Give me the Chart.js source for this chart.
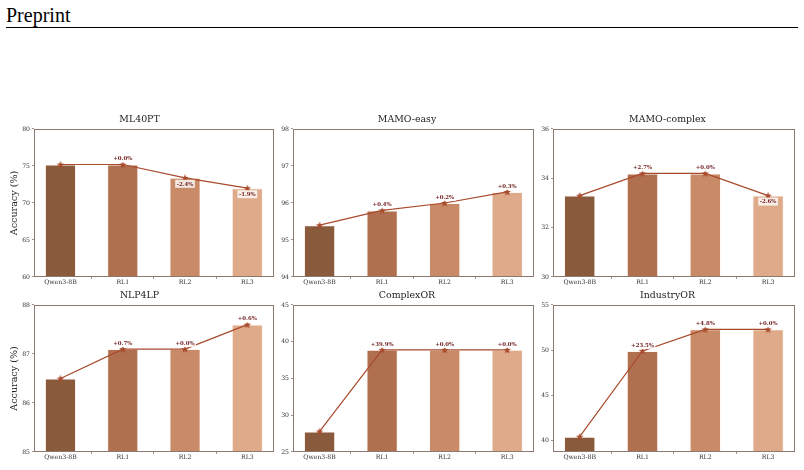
<!DOCTYPE html>
<html>
<head>
<meta charset="utf-8">
<script src="https://cdn.jsdelivr.net/npm/chart.js@4.4.1/dist/chart.umd.min.js"></script>
<style>
  html, body { margin: 0; padding: 0; background: #ffffff; }
  body { width: 804px; height: 470px; position: relative; overflow: hidden; }
  #hdr { position: absolute; left: 6px; top: 3px; font-family: "Liberation Serif", "Times New Roman", serif; font-size: 20px; line-height: 24px; color: #000; }
  #rule { position: absolute; left: 6px; top: 27px; width: 792px; height: 1px; background: #000; }
  canvas { position: absolute; }
</style>
</head>
<body>
<div id="hdr">Preprint</div>
<div id="rule"></div>

<canvas id="c0"></canvas>
<canvas id="c1"></canvas>
<canvas id="c2"></canvas>
<canvas id="c3"></canvas>
<canvas id="c4"></canvas>
<canvas id="c5"></canvas>

<script>
// ---------------- data ----------------
const categories = ["Qwen3-8B", "RL1", "RL2", "RL3"];

const titles = ["ML40PT", "MAMO-easy", "MAMO-complex", "NLP4LP", "ComplexOR", "IndustryOR"];

const ml40ptValues      = [75.2, 75.2, 73.4, 72.0];
const mamoEasyValues    = [95.4, 95.8, 96.0, 96.3];
const mamoComplexValues = [33.3, 34.2, 34.2, 33.3];
const nlp4lpValues      = [86.5, 87.1, 87.1, 87.6];
const complexORValues   = [27.8, 38.9, 38.9, 38.9];
const industryORValues  = [40.4, 49.9, 52.3, 52.3];

const ml40ptChanges      = ["", "+0.0%", "-2.4%", "-1.9%"];
const mamoEasyChanges    = ["", "+0.4%", "+0.2%", "+0.3%"];
const mamoComplexChanges = ["", "+2.7%", "+0.0%", "-2.6%"];
const nlp4lpChanges      = ["", "+0.7%", "+0.0%", "+0.6%"];
const complexORChanges   = ["", "+39.9%", "+0.0%", "+0.0%"];
const industryORChanges  = ["", "+23.5%", "+4.8%", "+0.0%"];

const ml40ptTicks      = [60, 65, 70, 75, 80];
const mamoEasyTicks    = [94, 95, 96, 97, 98];
const mamoComplexTicks = [30, 32, 34, 36];
const nlp4lpTicks      = [85, 86, 87, 88];
const complexORTicks   = [25, 30, 35, 40, 45];
const industryORTicks  = [40, 45, 50, 55];

const yRanges = [[60, 80], [94, 98], [30, 36], [85, 88], [25, 45], [38.7, 55]];

// ---------------- styles ----------------
const barColors = ["#8a5a3c", "#b07050", "#c98a68", "#deaa8a"];
const lineColor = "#a84a2c";
const spineColor = "#8c7a70";
const tickTextColor = "#333333";
const annColor = "#6e1c1c";
const serif = "'DejaVu Serif', serif";

// panel geometry (canvas placement + margins)
const panels = [
  { left: 0,   top: 105, yW: 34, plotW: 241, plotH: 148, rightM: 4 },
  { left: 275, top: 105, yW: 18, plotW: 242, plotH: 148, rightM: 4 },
  { left: 535, top: 105, yW: 18, plotW: 241, plotH: 148, rightM: 6 },
  { left: 0,   top: 281, yW: 34, plotW: 241, plotH: 147, rightM: 4 },
  { left: 275, top: 281, yW: 18, plotW: 242, plotH: 147, rightM: 4 },
  { left: 535, top: 281, yW: 18, plotW: 241, plotH: 147, rightM: 6 }
];
const topM = 24, bottomM = 14;

const allValues  = [ml40ptValues, mamoEasyValues, mamoComplexValues, nlp4lpValues, complexORValues, industryORValues];
const allChanges = [ml40ptChanges, mamoEasyChanges, mamoComplexChanges, nlp4lpChanges, complexORChanges, industryORChanges];
const allTicks   = [ml40ptTicks, mamoEasyTicks, mamoComplexTicks, nlp4lpTicks, complexORTicks, industryORTicks];

// star marker image
function makeStar(color) {
  const s = document.createElement('canvas');
  s.width = 10; s.height = 10;
  const g = s.getContext('2d');
  g.fillStyle = color;
  g.beginPath();
  const cx = 5, cy = 5.3, R = 4.0, r = 1.7;
  for (let i = 0; i < 10; i++) {
    const a = -Math.PI / 2 + i * Math.PI / 5;
    const rad = i % 2 === 0 ? R : r;
    const x = cx + rad * Math.cos(a), y = cy + rad * Math.sin(a);
    if (i === 0) g.moveTo(x, y); else g.lineTo(x, y);
  }
  g.closePath();
  g.fill();
  return s;
}
const starImg = makeStar(lineColor);

// frame plugin (all four spines)
const framePlugin = {
  id: 'frame',
  afterDatasetsDraw(chart) {
    const { ctx, chartArea: a } = chart;
    ctx.save();
    ctx.strokeStyle = spineColor;
    ctx.lineWidth = 1;
    ctx.strokeRect(Math.round(a.left) + 0.5, Math.round(a.top) + 0.5,
                   Math.round(a.right - a.left) - 1, Math.round(a.bottom - a.top) - 1);
    ctx.restore();
  }
};

// change-annotation plugin
const annPlugin = {
  id: 'ann',
  afterDraw(chart) {
    const labels = chart.options.plugins.ann.labels;
    const meta = chart.getDatasetMeta(1);
    const ctx = chart.ctx;
    ctx.save();
    ctx.font = "bold 5.4px " + serif;
    ctx.textAlign = 'center';
    labels.forEach((t, i) => {
      if (!t) return;
      const p = meta.data[i];
      const neg = t.charAt(0) === '-';
      const w = ctx.measureText(t).width;
      const h = 6;
      const cy = neg ? p.y + 6 : p.y - 6;
      ctx.fillStyle = 'rgba(255,255,255,0.8)';
      ctx.fillRect(p.x - w / 2 - 1.5, cy - h / 2 - 1, w + 3, h + 2);
      ctx.fillStyle = annColor;
      ctx.textBaseline = 'middle';
      ctx.fillText(t, p.x, cy + 0.3);
    });
    ctx.restore();
  }
};

panels.forEach((pn, k) => {
  const cv = document.getElementById('c' + k);
  const W = pn.yW + pn.plotW + pn.rightM;
  const H = topM + pn.plotH + bottomM;
  cv.width = W; cv.height = H;
  cv.style.left = pn.left + 'px';
  cv.style.top = pn.top + 'px';
  cv.style.width = W + 'px';
  cv.style.height = H + 'px';

  const vals = allValues[k];
  const pts = vals.map((v, i) => ({ x: i, y: v }));
  const ticks = allTicks[k];
  const showYTitle = (k % 3 === 0);

  new Chart(cv, {
    data: {
      datasets: [
        {
          type: 'bar',
          data: pts,
          backgroundColor: barColors,
          borderColor: 'rgba(255,245,238,0.85)',
          borderWidth: 1,
          barPercentage: 0.5,
          categoryPercentage: 1.0,
          order: 2
        },
        {
          type: 'line',
          data: pts,
          borderColor: lineColor,
          borderWidth: 1.2,
          tension: 0,
          pointStyle: starImg,
          pointRadius: 4,
          order: 1
        }
      ]
    },
    options: {
      responsive: false,
      animation: false,
      devicePixelRatio: 1,
      layout: { padding: 0 },
      plugins: {
        legend: { display: false },
        tooltip: { enabled: false },
        title: {
          display: true,
          text: titles[k],
          color: '#222222',
          font: { family: serif, size: 9.4, weight: 'normal' },
          padding: { top: 9.3, bottom: 3.4 }
        },
        ann: { labels: allChanges[k] }
      },
      scales: {
        x: {
          type: 'linear',
          min: -0.425,
          max: 3.425,
          offset: false,
          afterBuildTicks: (ax) => { ax.ticks = categories.map((c, i) => ({ value: i })); },
          afterFit: (ax) => { ax.height = bottomM; },
          ticks: {
            autoSkip: false,
            maxRotation: 0,
            padding: 0,
            color: tickTextColor,
            font: { family: serif, size: 6.2 },
            callback: (v) => categories[v]
          },
          grid: { display: true, drawOnChartArea: false, drawTicks: true, tickLength: 2, tickColor: spineColor, lineWidth: 0.8 },
          border: { display: false }
        },
        y: {
          type: 'linear',
          min: yRanges[k][0],
          max: yRanges[k][1],
          afterBuildTicks: (ax) => { ax.ticks = ticks.map(v => ({ value: v })); },
          afterFit: (ax) => { ax.width = pn.yW; },
          ticks: {
            padding: 2,
            color: tickTextColor,
            font: { family: serif, size: 6.2 },
            callback: (v) => String(v)
          },
          title: {
            display: showYTitle,
            text: 'Accuracy (%)',
            color: '#222222',
            font: { family: serif, size: 9.6 },
            padding: { top: 9, bottom: 0 }
          },
          grid: { display: true, drawOnChartArea: false, drawTicks: true, tickLength: 2, tickColor: spineColor, lineWidth: 0.8 },
          border: { display: false }
        }
      }
    },
    plugins: [framePlugin, annPlugin]
  });
});
</script>
</body>
</html>
